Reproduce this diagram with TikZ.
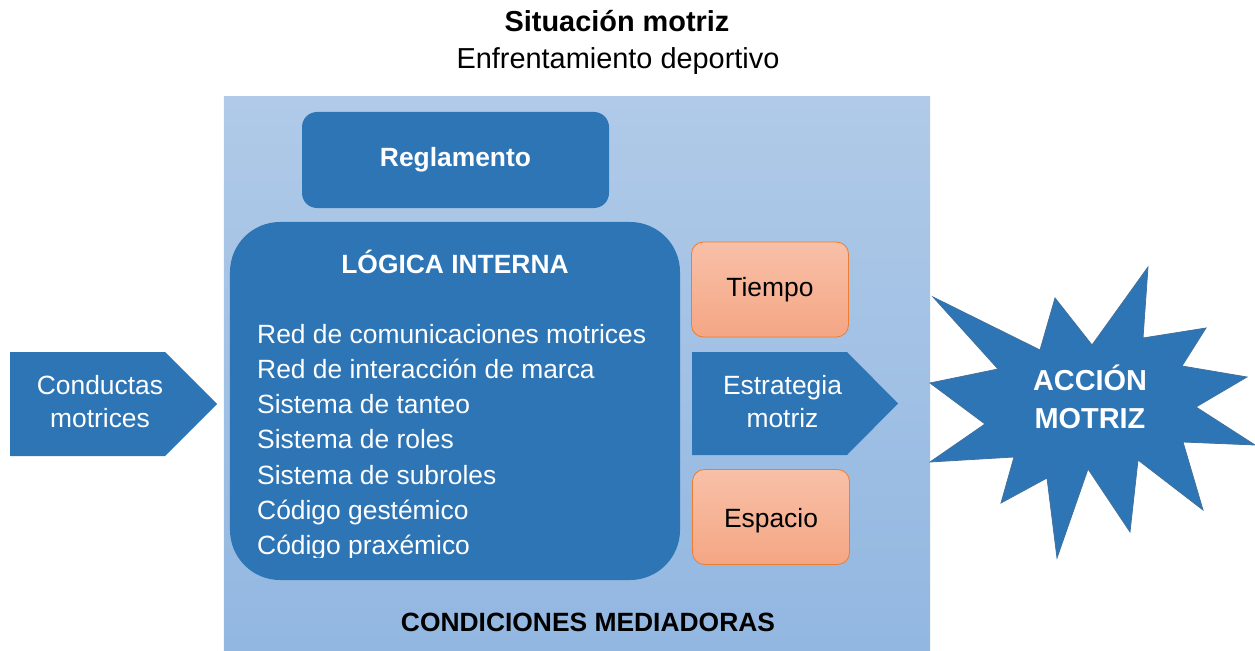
\documentclass[tikz,border=0pt]{standalone}
\usepackage{fontspec}
\setmainfont{Liberation Sans}
\definecolor{dblue}{HTML}{2E75B6}
\definecolor{bgtop}{RGB}{176,202,232}
\definecolor{bgbot}{RGB}{146,183,225}
\definecolor{ortop}{RGB}{248,192,168}
\definecolor{orbot}{RGB}{244,166,132}
\definecolor{orline}{HTML}{ED7D31}
\definecolor{starline}{HTML}{41719C}
\tikzset{
  txt/.style={inner sep=0pt, anchor=base, font=\fontsize{26.5}{30}\selectfont},
  wtxt/.style={txt, text=white},
  wbold/.style={wtxt, font=\fontsize{26.5}{30}\selectfont\bfseries},
  bluebox/.style={rectangle, fill=dblue, draw=none, inner sep=0pt},
  orbox/.style={rectangle, rounded corners=12bp, top color=ortop, bottom color=orbot, draw=orline, line width=0.8bp, inner sep=0pt, minimum width=157bp, minimum height=95bp},
  bluearrow/.style={fill=dblue}
}
\begin{document}
\begin{tikzpicture}[x=1bp,y=-1bp]
\useasboundingbox (0,0) rectangle (1255,651);
% titles
\node[txt, font=\fontsize{29}{34}\selectfont\bfseries] (title) at (617,32) {Situación motriz};
\node[txt, font=\fontsize{29}{34}\selectfont] (subtitle) at (618,69) {Enfrentamiento deportivo};
% background
\node[rectangle, inner sep=0pt, top color=bgtop, bottom color=bgbot, minimum width=706bp, minimum height=554bp] (bg) at (577,374) {};
\node[txt, font=\fontsize{26.5}{30}\selectfont\bfseries] (cond) at (588,631) {CONDICIONES MEDIADORAS};
% reglamento
\node[bluebox, rounded corners=15bp, minimum width=307bp, minimum height=96bp] (regl) at (455.5,160) {};
\node[wbold] (regltxt) at (455.5,167) {Reglamento};
% logica interna
\node[bluebox, rounded corners=50bp, minimum width=450bp, minimum height=358bp] (logica) at (455,401) {};
\node[wbold] (logtitle) at (455,273) {LÓGICA INTERNA};
\begin{scope}
\clip (230,222) rectangle (680,557);
\foreach \t [count=\i] in {Red de comunicaciones motrices,Red de interacción de marca,Sistema de tanteo,Sistema de roles,Sistema de subroles,Código gestémico,Código praxémico}{
  \node[wtxt, anchor=base west] (l\i) at (257,{343+35.3*(\i-1)}) {\t};
}
\end{scope}
% tiempo / espacio
\node[orbox] (tiempo) at (770,289.5) {};
\node[txt] (tiempotxt) at (770,296) {Tiempo};
\node[orbox] (espacio) at (771,517) {};
\node[txt] (espaciotxt) at (771,527) {Espacio};
% estrategia arrow
\fill[bluearrow] (692,352) -- (847,352) -- (898,403.5) -- (847,455) -- (692,455) -- cycle;
\node[wtxt] (estr1) at (782.5,394) {Estrategia};
\node[wtxt] (estr2) at (782.5,427) {motriz};
% conductas arrow
\fill[bluearrow] (10,352) -- (165,352) -- (217,404) -- (165,456) -- (10,456) -- cycle;
\node[wtxt] (cond1) at (100,394) {Conductas};
\node[wtxt] (cond2) at (100,427) {motrices};
% star
\filldraw[fill=dblue, draw=starline, line width=0.8bp, line join=miter]
  (933,297) -- (1040,350) -- (1055,298) -- (1092,345) -- (1148,267) -- (1143,338)
  -- (1206,328) -- (1182,366) -- (1247,377) -- (1196,407) -- (1255,445) -- (1183,442)
  -- (1203,510) -- (1138,460) -- (1130,532) -- (1088,469) -- (1057,558) -- (1047,478)
  -- (1001,503) -- (1014,457) -- (930,462) -- (985,424) -- (930,383) -- (998,369) -- cycle;
\node[wtxt, font=\fontsize{29}{34}\selectfont\bfseries] (acc1) at (1090,390) {ACCIÓN};
\node[wtxt, font=\fontsize{29}{34}\selectfont\bfseries] (acc2) at (1090,428) {MOTRIZ};
\end{tikzpicture}
\end{document}
